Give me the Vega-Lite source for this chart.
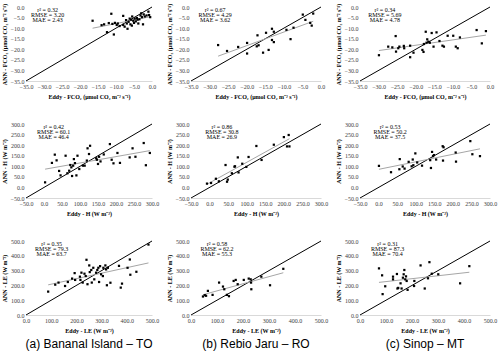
{
  "$schema": "https://vega.github.io/schema/vega-lite/v6.json",
  "padding": {"left": 1, "top": 3, "right": 1, "bottom": 1},
  "columns": 3,
  "spacing": {"row": 22, "column": 7},
  "datasets": {
    "fa": [{"eddy":-16.5,"ann":-6.5},{"eddy":-14.0,"ann":-8.6},{"eddy":-13.3,"ann":-8.2},{"eddy":-12.5,"ann":-11.9},{"eddy":-12.0,"ann":-7.6},{"eddy":-11.3,"ann":-3.2},{"eddy":-11.0,"ann":-8.0},{"eddy":-10.6,"ann":-13.0},{"eddy":-10.3,"ann":-7.5},{"eddy":-9.8,"ann":-8.5},{"eddy":-9.5,"ann":-7.8},{"eddy":-9.0,"ann":-9.0},{"eddy":-8.0,"ann":-4.2},{"eddy":-8.0,"ann":-8.5},{"eddy":-7.6,"ann":-9.3},{"eddy":-7.2,"ann":-6.2},{"eddy":-7.0,"ann":-7.8},{"eddy":-6.8,"ann":-10.3},{"eddy":-6.5,"ann":-7.0},{"eddy":-6.2,"ann":-5.5},{"eddy":-6.0,"ann":-8.2},{"eddy":-5.8,"ann":-6.0},{"eddy":-5.6,"ann":-8.8},{"eddy":-5.5,"ann":-4.5},{"eddy":-5.2,"ann":-6.5},{"eddy":-5.0,"ann":-7.5},{"eddy":-4.8,"ann":-5.5},{"eddy":-4.5,"ann":-6.8},{"eddy":-4.2,"ann":-5.2},{"eddy":-4.0,"ann":-6.0},{"eddy":-3.8,"ann":-7.8},{"eddy":-3.5,"ann":-5.8},{"eddy":-3.2,"ann":-4.0},{"eddy":-3.0,"ann":-3.0},{"eddy":-2.8,"ann":-4.8},{"eddy":-2.5,"ann":-8.2},{"eddy":-2.3,"ann":-3.5},{"eddy":-2.0,"ann":-4.5},{"eddy":-1.5,"ann":-4.0},{"eddy":-1.0,"ann":-2.2},{"eddy":-0.8,"ann":-3.8},{"eddy":-0.5,"ann":-4.8}],
    "fb": [{"eddy":-27.7,"ann":-18.0},{"eddy":-25.3,"ann":-20.8},{"eddy":-22.3,"ann":-18.9},{"eddy":-19.9,"ann":-17.0},{"eddy":-19.9,"ann":-22.0},{"eddy":-17.3,"ann":-18.6},{"eddy":-17.1,"ann":-13.4},{"eddy":-16.8,"ann":-18.1},{"eddy":-14.8,"ann":-12.2},{"eddy":-15.6,"ann":-21.6},{"eddy":-14.1,"ann":-20.3},{"eddy":-13.2,"ann":-10.3},{"eddy":-12.7,"ann":-11.7},{"eddy":-13.2,"ann":-15.6},{"eddy":-12.7,"ann":-16.6},{"eddy":-9.3,"ann":-10.8},{"eddy":-7.4,"ann":-9.8},{"eddy":-8.2,"ann":-15.2},{"eddy":-4.9,"ann":-3.6},{"eddy":-4.2,"ann":-6.1},{"eddy":-2.9,"ann":-7.5},{"eddy":-2.5,"ann":-8.8},{"eddy":-2.1,"ann":-3.1}],
    "fc": [{"eddy":-29.9,"ann":-22.8},{"eddy":-27.4,"ann":-18.75},{"eddy":-26.3,"ann":-19.1},{"eddy":-25.4,"ann":-13.75},{"eddy":-25.3,"ann":-21.1},{"eddy":-24.7,"ann":-19.5},{"eddy":-24.4,"ann":-18.75},{"eddy":-23.2,"ann":-18.4},{"eddy":-23.1,"ann":-19.5},{"eddy":-21.5,"ann":-18.3},{"eddy":-21.5,"ann":-23.75},{"eddy":-20.6,"ann":-21.6},{"eddy":-18.2,"ann":-20.3},{"eddy":-17.9,"ann":-21.25},{"eddy":-17.8,"ann":-17.5},{"eddy":-17.3,"ann":-11.7},{"eddy":-17.1,"ann":-16.9},{"eddy":-16.9,"ann":-15.3},{"eddy":-16.6,"ann":-16.4},{"eddy":-16.2,"ann":-16.9},{"eddy":-15.7,"ann":-12.3},{"eddy":-15.2,"ann":-18.75},{"eddy":-14.4,"ann":-12.0},{"eddy":-13.6,"ann":-16.1},{"eddy":-12.8,"ann":-18.3},{"eddy":-12.4,"ann":-18.75},{"eddy":-11.4,"ann":-13.6},{"eddy":-9.9,"ann":-13.6},{"eddy":-9.2,"ann":-18.75},{"eddy":-8.7,"ann":-19.5},{"eddy":-8.1,"ann":-14.4},{"eddy":-3.6,"ann":-10.9},{"eddy":-2.2,"ann":-17.2},{"eddy":-1.1,"ann":-11.4}],
    "ha": [{"eddy":3,"ann":24},{"eddy":22,"ann":116},{"eddy":30,"ann":155},{"eddy":35,"ann":128},{"eddy":42,"ann":78},{"eddy":46,"ann":57},{"eddy":60,"ann":150},{"eddy":65,"ann":67},{"eddy":70,"ann":79},{"eddy":73,"ann":106},{"eddy":76,"ann":95},{"eddy":78,"ann":54},{"eddy":81,"ann":103},{"eddy":83,"ann":134},{"eddy":86,"ann":115},{"eddy":90,"ann":57},{"eddy":93,"ann":150},{"eddy":98,"ann":87},{"eddy":108,"ann":103},{"eddy":113,"ann":103},{"eddy":119,"ann":127},{"eddy":121,"ann":185},{"eddy":125,"ann":158},{"eddy":128,"ann":197},{"eddy":145,"ann":138},{"eddy":147,"ann":131},{"eddy":150,"ann":111},{"eddy":153,"ann":145},{"eddy":157,"ann":123},{"eddy":166,"ann":156},{"eddy":183,"ann":205},{"eddy":188,"ann":131},{"eddy":193,"ann":114},{"eddy":204,"ann":163},{"eddy":211,"ann":116},{"eddy":238,"ann":142},{"eddy":246,"ann":185},{"eddy":254,"ann":145},{"eddy":277,"ann":210},{"eddy":283,"ann":105},{"eddy":294,"ann":163}],
    "hb": [{"eddy":-7,"ann":18},{"eddy":4,"ann":21},{"eddy":17,"ann":41},{"eddy":25,"ann":29},{"eddy":43,"ann":106},{"eddy":47,"ann":27},{"eddy":49,"ann":37},{"eddy":60,"ann":67},{"eddy":67,"ann":98},{"eddy":68.5,"ann":100},{"eddy":76,"ann":142},{"eddy":78,"ann":71},{"eddy":88,"ann":112},{"eddy":99,"ann":97},{"eddy":105,"ann":144},{"eddy":126,"ann":196},{"eddy":140,"ann":130},{"eddy":173,"ann":202},{"eddy":200,"ann":238},{"eddy":208.5,"ann":194},{"eddy":213,"ann":248},{"eddy":215,"ann":194}],
    "hc": [{"eddy":1,"ann":102},{"eddy":33.5,"ann":72},{"eddy":56,"ann":86},{"eddy":57,"ann":134},{"eddy":65,"ann":99},{"eddy":70,"ann":89},{"eddy":81,"ann":121},{"eddy":89,"ann":100},{"eddy":92,"ann":132},{"eddy":93.6,"ann":105},{"eddy":99,"ann":161},{"eddy":104,"ann":118},{"eddy":117,"ann":103},{"eddy":139,"ann":129},{"eddy":141,"ann":92},{"eddy":144,"ann":168},{"eddy":146.6,"ann":148},{"eddy":149,"ann":153},{"eddy":155,"ann":132},{"eddy":172.6,"ann":195},{"eddy":173.5,"ann":127},{"eddy":175,"ann":190},{"eddy":207.6,"ann":165},{"eddy":208.5,"ann":122},{"eddy":247,"ann":219},{"eddy":252.5,"ann":157},{"eddy":273,"ann":148}],
    "la": [{"eddy":88,"ann":158},{"eddy":116,"ann":205},{"eddy":129,"ann":219},{"eddy":155,"ann":196},{"eddy":166,"ann":223},{"eddy":183,"ann":246},{"eddy":193,"ann":283},{"eddy":195,"ann":237},{"eddy":214,"ann":259},{"eddy":216,"ann":237},{"eddy":220,"ann":286},{"eddy":225,"ann":219},{"eddy":232,"ann":279},{"eddy":237,"ann":263},{"eddy":240,"ann":373},{"eddy":244,"ann":208},{"eddy":251,"ann":335},{"eddy":253,"ann":290},{"eddy":259,"ann":304},{"eddy":261,"ann":219},{"eddy":267,"ann":319},{"eddy":271,"ann":241},{"eddy":278,"ann":286},{"eddy":283,"ann":304},{"eddy":287,"ann":319},{"eddy":290,"ann":223},{"eddy":294,"ann":330},{"eddy":298,"ann":275},{"eddy":305,"ann":263},{"eddy":307,"ann":319},{"eddy":315,"ann":335},{"eddy":318,"ann":308},{"eddy":321,"ann":201},{"eddy":325,"ann":319},{"eddy":335,"ann":218},{"eddy":369,"ann":332},{"eddy":376,"ann":185},{"eddy":381,"ann":212},{"eddy":403,"ann":319},{"eddy":412,"ann":375},{"eddy":414,"ann":272},{"eddy":438,"ann":292},{"eddy":486,"ann":476}],
    "lb": [{"eddy":46,"ann":125},{"eddy":53,"ann":134},{"eddy":58,"ann":130},{"eddy":65,"ann":163},{"eddy":83,"ann":136},{"eddy":108,"ann":219},{"eddy":123,"ann":192},{"eddy":128,"ann":174},{"eddy":138,"ann":136},{"eddy":146,"ann":127},{"eddy":164,"ann":230},{"eddy":172,"ann":237},{"eddy":179.5,"ann":208},{"eddy":203,"ann":237},{"eddy":222,"ann":246},{"eddy":229.5,"ann":241},{"eddy":231,"ann":219},{"eddy":232,"ann":174},{"eddy":270.5,"ann":259},{"eddy":304,"ann":201},{"eddy":355,"ann":312}],
    "lc": [{"eddy":73,"ann":315},{"eddy":85,"ann":268},{"eddy":87,"ann":141},{"eddy":97,"ann":194},{"eddy":127,"ann":259},{"eddy":127,"ann":241},{"eddy":142,"ann":277},{"eddy":144,"ann":179},{"eddy":147,"ann":183},{"eddy":156,"ann":214},{"eddy":160,"ann":179},{"eddy":165,"ann":252},{"eddy":168,"ann":275},{"eddy":170.5,"ann":304},{"eddy":174,"ann":241},{"eddy":177,"ann":261},{"eddy":179.5,"ann":230},{"eddy":183,"ann":170},{"eddy":208,"ann":196},{"eddy":209,"ann":230},{"eddy":233,"ann":335},{"eddy":249,"ann":179},{"eddy":261.5,"ann":248},{"eddy":267,"ann":357},{"eddy":276,"ann":279},{"eddy":301,"ann":275},{"eddy":385,"ann":214},{"eddy":420.5,"ann":330}]
  },
  "concat": [
    {
      "data": {"name": "fa"}, "width": 126, "height": 74,
      "layer": [
        {"data": {"values": [{}]}, "mark": {"type": "rule", "color": "#000000", "strokeWidth": 1}, "encoding": {"x": {"datum": -35, "type": "quantitative", "scale": {"domain": [-35, 0], "nice": false, "zero": false}, "axis": {"values": [-35,-30,-25,-20,-15,-10,-5,0], "format": ".1f", "title": "Eddy - FCO₂ (μmol CO₂ m⁻² s⁻¹)"}}, "y": {"datum": -35, "type": "quantitative", "scale": {"domain": [-35, 0], "nice": false, "zero": false}, "axis": {"values": [-35,-30,-25,-20,-15,-10,-5,0], "format": ".1f", "title": "ANN - FCO₂ (μmol CO₂ m⁻² s⁻¹)"}}, "x2": {"datum": 0}, "y2": {"datum": 0}}},
        {"mark": {"type": "line", "color": "#a6a6a6", "strokeWidth": 1}, "transform": [{"regression": "ann", "on": "eddy"}], "encoding": {"x": {"field": "eddy", "type": "quantitative", "scale": {"domain": [-35, 0], "nice": false, "zero": false}, "axis": {"values": [-35,-30,-25,-20,-15,-10,-5,0], "format": ".1f", "title": "Eddy - FCO₂ (μmol CO₂ m⁻² s⁻¹)"}}, "y": {"field": "ann", "type": "quantitative", "scale": {"domain": [-35, 0], "nice": false, "zero": false}, "axis": {"values": [-35,-30,-25,-20,-15,-10,-5,0], "format": ".1f", "title": "ANN - FCO₂ (μmol CO₂ m⁻² s⁻¹)"}}}},
        {"mark": {"type": "square", "color": "#000000", "size": 5, "opacity": 1}, "encoding": {"x": {"field": "eddy", "type": "quantitative", "scale": {"domain": [-35, 0], "nice": false, "zero": false}, "axis": {"values": [-35,-30,-25,-20,-15,-10,-5,0], "format": ".1f", "title": "Eddy - FCO₂ (μmol CO₂ m⁻² s⁻¹)"}}, "y": {"field": "ann", "type": "quantitative", "scale": {"domain": [-35, 0], "nice": false, "zero": false}, "axis": {"values": [-35,-30,-25,-20,-15,-10,-5,0], "format": ".1f", "title": "ANN - FCO₂ (μmol CO₂ m⁻² s⁻¹)"}}}},
        {"data": {"values": [{}]}, "mark": {"type": "text", "fontSize": 6, "align": "center", "baseline": "top", "lineHeight": 5, "text": ["r² = 0.32", "RMSE = 3.20", "MAE = 2.43"]}, "encoding": {"x": {"datum": -29, "type": "quantitative", "scale": {"domain": [-35, 0], "nice": false, "zero": false}, "axis": {"values": [-35,-30,-25,-20,-15,-10,-5,0], "format": ".1f", "title": "Eddy - FCO₂ (μmol CO₂ m⁻² s⁻¹)"}}, "y": {"datum": 0, "type": "quantitative", "scale": {"domain": [-35, 0], "nice": false, "zero": false}, "axis": {"values": [-35,-30,-25,-20,-15,-10,-5,0], "format": ".1f", "title": "ANN - FCO₂ (μmol CO₂ m⁻² s⁻¹)"}}}}
      ]
    },
    {
      "data": {"name": "fb"}, "width": 130, "height": 74,
      "layer": [
        {"data": {"values": [{}]}, "mark": {"type": "rule", "color": "#000000", "strokeWidth": 1}, "encoding": {"x": {"datum": -35, "type": "quantitative", "scale": {"domain": [-35, 0], "nice": false, "zero": false}, "axis": {"values": [-35,-30,-25,-20,-15,-10,-5,0], "format": ".1f", "title": "Eddy - FCO₂ (μmol CO₂ m⁻² s⁻¹)"}}, "y": {"datum": -35, "type": "quantitative", "scale": {"domain": [-35, 0], "nice": false, "zero": false}, "axis": {"values": [-35,-30,-25,-20,-15,-10,-5,0], "format": ".1f", "title": "ANN - FCO₂ (μmol CO₂ m⁻² s⁻¹)"}}, "x2": {"datum": 0}, "y2": {"datum": 0}}},
        {"mark": {"type": "line", "color": "#a6a6a6", "strokeWidth": 1}, "transform": [{"regression": "ann", "on": "eddy"}], "encoding": {"x": {"field": "eddy", "type": "quantitative", "scale": {"domain": [-35, 0], "nice": false, "zero": false}, "axis": {"values": [-35,-30,-25,-20,-15,-10,-5,0], "format": ".1f", "title": "Eddy - FCO₂ (μmol CO₂ m⁻² s⁻¹)"}}, "y": {"field": "ann", "type": "quantitative", "scale": {"domain": [-35, 0], "nice": false, "zero": false}, "axis": {"values": [-35,-30,-25,-20,-15,-10,-5,0], "format": ".1f", "title": "ANN - FCO₂ (μmol CO₂ m⁻² s⁻¹)"}}}},
        {"mark": {"type": "square", "color": "#000000", "size": 5, "opacity": 1}, "encoding": {"x": {"field": "eddy", "type": "quantitative", "scale": {"domain": [-35, 0], "nice": false, "zero": false}, "axis": {"values": [-35,-30,-25,-20,-15,-10,-5,0], "format": ".1f", "title": "Eddy - FCO₂ (μmol CO₂ m⁻² s⁻¹)"}}, "y": {"field": "ann", "type": "quantitative", "scale": {"domain": [-35, 0], "nice": false, "zero": false}, "axis": {"values": [-35,-30,-25,-20,-15,-10,-5,0], "format": ".1f", "title": "ANN - FCO₂ (μmol CO₂ m⁻² s⁻¹)"}}}},
        {"data": {"values": [{}]}, "mark": {"type": "text", "fontSize": 6, "align": "center", "baseline": "top", "lineHeight": 5, "text": ["r² = 0.67", "RMSE = 4.29", "MAE = 3.62"]}, "encoding": {"x": {"datum": -28.5, "type": "quantitative", "scale": {"domain": [-35, 0], "nice": false, "zero": false}, "axis": {"values": [-35,-30,-25,-20,-15,-10,-5,0], "format": ".1f", "title": "Eddy - FCO₂ (μmol CO₂ m⁻² s⁻¹)"}}, "y": {"datum": 0, "type": "quantitative", "scale": {"domain": [-35, 0], "nice": false, "zero": false}, "axis": {"values": [-35,-30,-25,-20,-15,-10,-5,0], "format": ".1f", "title": "ANN - FCO₂ (μmol CO₂ m⁻² s⁻¹)"}}}}
      ]
    },
    {
      "data": {"name": "fc"}, "width": 130, "height": 74,
      "layer": [
        {"data": {"values": [{}]}, "mark": {"type": "rule", "color": "#000000", "strokeWidth": 1}, "encoding": {"x": {"datum": -35, "type": "quantitative", "scale": {"domain": [-35, 0], "nice": false, "zero": false}, "axis": {"values": [-35,-30,-25,-20,-15,-10,-5,0], "format": ".1f", "title": "Eddy - FCO₂ (μmol CO₂ m⁻² s⁻¹)"}}, "y": {"datum": -35, "type": "quantitative", "scale": {"domain": [-35, 0], "nice": false, "zero": false}, "axis": {"values": [-35,-30,-25,-20,-15,-10,-5,0], "format": ".1f", "title": "ANN - FCO₂ (μmol CO₂ m⁻² s⁻¹)"}}, "x2": {"datum": 0}, "y2": {"datum": 0}}},
        {"mark": {"type": "line", "color": "#a6a6a6", "strokeWidth": 1}, "transform": [{"regression": "ann", "on": "eddy"}], "encoding": {"x": {"field": "eddy", "type": "quantitative", "scale": {"domain": [-35, 0], "nice": false, "zero": false}, "axis": {"values": [-35,-30,-25,-20,-15,-10,-5,0], "format": ".1f", "title": "Eddy - FCO₂ (μmol CO₂ m⁻² s⁻¹)"}}, "y": {"field": "ann", "type": "quantitative", "scale": {"domain": [-35, 0], "nice": false, "zero": false}, "axis": {"values": [-35,-30,-25,-20,-15,-10,-5,0], "format": ".1f", "title": "ANN - FCO₂ (μmol CO₂ m⁻² s⁻¹)"}}}},
        {"mark": {"type": "square", "color": "#000000", "size": 5, "opacity": 1}, "encoding": {"x": {"field": "eddy", "type": "quantitative", "scale": {"domain": [-35, 0], "nice": false, "zero": false}, "axis": {"values": [-35,-30,-25,-20,-15,-10,-5,0], "format": ".1f", "title": "Eddy - FCO₂ (μmol CO₂ m⁻² s⁻¹)"}}, "y": {"field": "ann", "type": "quantitative", "scale": {"domain": [-35, 0], "nice": false, "zero": false}, "axis": {"values": [-35,-30,-25,-20,-15,-10,-5,0], "format": ".1f", "title": "ANN - FCO₂ (μmol CO₂ m⁻² s⁻¹)"}}}},
        {"data": {"values": [{}]}, "mark": {"type": "text", "fontSize": 6, "align": "center", "baseline": "top", "lineHeight": 5, "text": ["r² = 0.34", "RMSE = 5.69", "MAE = 4.78"]}, "encoding": {"x": {"datum": -28.3, "type": "quantitative", "scale": {"domain": [-35, 0], "nice": false, "zero": false}, "axis": {"values": [-35,-30,-25,-20,-15,-10,-5,0], "format": ".1f", "title": "Eddy - FCO₂ (μmol CO₂ m⁻² s⁻¹)"}}, "y": {"datum": 0, "type": "quantitative", "scale": {"domain": [-35, 0], "nice": false, "zero": false}, "axis": {"values": [-35,-30,-25,-20,-15,-10,-5,0], "format": ".1f", "title": "ANN - FCO₂ (μmol CO₂ m⁻² s⁻¹)"}}}}
      ]
    },
    {
      "data": {"name": "ha"}, "width": 126, "height": 74,
      "layer": [
        {"data": {"values": [{}]}, "mark": {"type": "rule", "color": "#000000", "strokeWidth": 1}, "encoding": {"x": {"datum": -50, "type": "quantitative", "scale": {"domain": [-50, 300], "nice": false, "zero": false}, "axis": {"values": [-50,0,50,100,150,200,250,300], "format": ".1f", "title": "Eddy - H (W m⁻²)"}}, "y": {"datum": -50, "type": "quantitative", "scale": {"domain": [-50, 300], "nice": false, "zero": false}, "axis": {"values": [-50,0,50,100,150,200,250,300], "format": ".1f", "title": "ANN - H (W m⁻²)"}}, "x2": {"datum": 300}, "y2": {"datum": 300}}},
        {"mark": {"type": "line", "color": "#a6a6a6", "strokeWidth": 1}, "transform": [{"regression": "ann", "on": "eddy"}], "encoding": {"x": {"field": "eddy", "type": "quantitative", "scale": {"domain": [-50, 300], "nice": false, "zero": false}, "axis": {"values": [-50,0,50,100,150,200,250,300], "format": ".1f", "title": "Eddy - H (W m⁻²)"}}, "y": {"field": "ann", "type": "quantitative", "scale": {"domain": [-50, 300], "nice": false, "zero": false}, "axis": {"values": [-50,0,50,100,150,200,250,300], "format": ".1f", "title": "ANN - H (W m⁻²)"}}}},
        {"mark": {"type": "square", "color": "#000000", "size": 5, "opacity": 1}, "encoding": {"x": {"field": "eddy", "type": "quantitative", "scale": {"domain": [-50, 300], "nice": false, "zero": false}, "axis": {"values": [-50,0,50,100,150,200,250,300], "format": ".1f", "title": "Eddy - H (W m⁻²)"}}, "y": {"field": "ann", "type": "quantitative", "scale": {"domain": [-50, 300], "nice": false, "zero": false}, "axis": {"values": [-50,0,50,100,150,200,250,300], "format": ".1f", "title": "ANN - H (W m⁻²)"}}}},
        {"data": {"values": [{}]}, "mark": {"type": "text", "fontSize": 6, "align": "center", "baseline": "top", "lineHeight": 5, "text": ["r² = 0.42", "RMSE = 60.1", "MAE = 46.4"]}, "encoding": {"x": {"datum": 27, "type": "quantitative", "scale": {"domain": [-50, 300], "nice": false, "zero": false}, "axis": {"values": [-50,0,50,100,150,200,250,300], "format": ".1f", "title": "Eddy - H (W m⁻²)"}}, "y": {"datum": 300, "type": "quantitative", "scale": {"domain": [-50, 300], "nice": false, "zero": false}, "axis": {"values": [-50,0,50,100,150,200,250,300], "format": ".1f", "title": "ANN - H (W m⁻²)"}}}}
      ]
    },
    {
      "data": {"name": "hb"}, "width": 130, "height": 74,
      "layer": [
        {"data": {"values": [{}]}, "mark": {"type": "rule", "color": "#000000", "strokeWidth": 1}, "encoding": {"x": {"datum": -50, "type": "quantitative", "scale": {"domain": [-50, 300], "nice": false, "zero": false}, "axis": {"values": [-50,0,50,100,150,200,250,300], "format": ".1f", "title": "Eddy - H (W m⁻²)"}}, "y": {"datum": -50, "type": "quantitative", "scale": {"domain": [-50, 300], "nice": false, "zero": false}, "axis": {"values": [-50,0,50,100,150,200,250,300], "format": ".1f", "title": "ANN - H (W m⁻²)"}}, "x2": {"datum": 300}, "y2": {"datum": 300}}},
        {"mark": {"type": "line", "color": "#a6a6a6", "strokeWidth": 1}, "transform": [{"regression": "ann", "on": "eddy"}], "encoding": {"x": {"field": "eddy", "type": "quantitative", "scale": {"domain": [-50, 300], "nice": false, "zero": false}, "axis": {"values": [-50,0,50,100,150,200,250,300], "format": ".1f", "title": "Eddy - H (W m⁻²)"}}, "y": {"field": "ann", "type": "quantitative", "scale": {"domain": [-50, 300], "nice": false, "zero": false}, "axis": {"values": [-50,0,50,100,150,200,250,300], "format": ".1f", "title": "ANN - H (W m⁻²)"}}}},
        {"mark": {"type": "square", "color": "#000000", "size": 5, "opacity": 1}, "encoding": {"x": {"field": "eddy", "type": "quantitative", "scale": {"domain": [-50, 300], "nice": false, "zero": false}, "axis": {"values": [-50,0,50,100,150,200,250,300], "format": ".1f", "title": "Eddy - H (W m⁻²)"}}, "y": {"field": "ann", "type": "quantitative", "scale": {"domain": [-50, 300], "nice": false, "zero": false}, "axis": {"values": [-50,0,50,100,150,200,250,300], "format": ".1f", "title": "ANN - H (W m⁻²)"}}}},
        {"data": {"values": [{}]}, "mark": {"type": "text", "fontSize": 6, "align": "center", "baseline": "top", "lineHeight": 5, "text": ["r² = 0.86", "RMSE = 30.8", "MAE = 26.9"]}, "encoding": {"x": {"datum": 33, "type": "quantitative", "scale": {"domain": [-50, 300], "nice": false, "zero": false}, "axis": {"values": [-50,0,50,100,150,200,250,300], "format": ".1f", "title": "Eddy - H (W m⁻²)"}}, "y": {"datum": 300, "type": "quantitative", "scale": {"domain": [-50, 300], "nice": false, "zero": false}, "axis": {"values": [-50,0,50,100,150,200,250,300], "format": ".1f", "title": "ANN - H (W m⁻²)"}}}}
      ]
    },
    {
      "data": {"name": "hc"}, "width": 130, "height": 74,
      "layer": [
        {"data": {"values": [{}]}, "mark": {"type": "rule", "color": "#000000", "strokeWidth": 1}, "encoding": {"x": {"datum": -50, "type": "quantitative", "scale": {"domain": [-50, 300], "nice": false, "zero": false}, "axis": {"values": [-50,0,50,100,150,200,250,300], "format": ".1f", "title": "Eddy - H (W m⁻²)"}}, "y": {"datum": -50, "type": "quantitative", "scale": {"domain": [-50, 300], "nice": false, "zero": false}, "axis": {"values": [-50,0,50,100,150,200,250,300], "format": ".1f", "title": "ANN - H (W m⁻²)"}}, "x2": {"datum": 300}, "y2": {"datum": 300}}},
        {"mark": {"type": "line", "color": "#a6a6a6", "strokeWidth": 1}, "transform": [{"regression": "ann", "on": "eddy"}], "encoding": {"x": {"field": "eddy", "type": "quantitative", "scale": {"domain": [-50, 300], "nice": false, "zero": false}, "axis": {"values": [-50,0,50,100,150,200,250,300], "format": ".1f", "title": "Eddy - H (W m⁻²)"}}, "y": {"field": "ann", "type": "quantitative", "scale": {"domain": [-50, 300], "nice": false, "zero": false}, "axis": {"values": [-50,0,50,100,150,200,250,300], "format": ".1f", "title": "ANN - H (W m⁻²)"}}}},
        {"mark": {"type": "square", "color": "#000000", "size": 5, "opacity": 1}, "encoding": {"x": {"field": "eddy", "type": "quantitative", "scale": {"domain": [-50, 300], "nice": false, "zero": false}, "axis": {"values": [-50,0,50,100,150,200,250,300], "format": ".1f", "title": "Eddy - H (W m⁻²)"}}, "y": {"field": "ann", "type": "quantitative", "scale": {"domain": [-50, 300], "nice": false, "zero": false}, "axis": {"values": [-50,0,50,100,150,200,250,300], "format": ".1f", "title": "ANN - H (W m⁻²)"}}}},
        {"data": {"values": [{}]}, "mark": {"type": "text", "fontSize": 6, "align": "center", "baseline": "top", "lineHeight": 5, "text": ["r² = 0.53", "RMSE = 50.2", "MAE = 37.5"]}, "encoding": {"x": {"datum": 31, "type": "quantitative", "scale": {"domain": [-50, 300], "nice": false, "zero": false}, "axis": {"values": [-50,0,50,100,150,200,250,300], "format": ".1f", "title": "Eddy - H (W m⁻²)"}}, "y": {"datum": 300, "type": "quantitative", "scale": {"domain": [-50, 300], "nice": false, "zero": false}, "axis": {"values": [-50,0,50,100,150,200,250,300], "format": ".1f", "title": "ANN - H (W m⁻²)"}}}}
      ]
    },
    {
      "data": {"name": "la"}, "width": 126, "height": 74,
      "title": {"text": "(a) Bananal Island – TO", "orient": "bottom", "anchor": "middle", "frame": "group", "font": "Liberation Sans", "fontSize": 12, "fontWeight": "normal", "color": "#000000", "offset": 6},
      "layer": [
        {"data": {"values": [{}]}, "mark": {"type": "rule", "color": "#000000", "strokeWidth": 1}, "encoding": {"x": {"datum": 0, "type": "quantitative", "scale": {"domain": [0, 500], "nice": false, "zero": false}, "axis": {"values": [0,100,200,300,400,500], "format": ".1f", "title": "Eddy - LE (W m⁻²)"}}, "y": {"datum": 0, "type": "quantitative", "scale": {"domain": [0, 500], "nice": false, "zero": false}, "axis": {"values": [0,100,200,300,400,500], "format": ".1f", "title": "ANN - LE (W m⁻²)"}}, "x2": {"datum": 500}, "y2": {"datum": 500}}},
        {"mark": {"type": "line", "color": "#a6a6a6", "strokeWidth": 1}, "transform": [{"regression": "ann", "on": "eddy"}], "encoding": {"x": {"field": "eddy", "type": "quantitative", "scale": {"domain": [0, 500], "nice": false, "zero": false}, "axis": {"values": [0,100,200,300,400,500], "format": ".1f", "title": "Eddy - LE (W m⁻²)"}}, "y": {"field": "ann", "type": "quantitative", "scale": {"domain": [0, 500], "nice": false, "zero": false}, "axis": {"values": [0,100,200,300,400,500], "format": ".1f", "title": "ANN - LE (W m⁻²)"}}}},
        {"mark": {"type": "square", "color": "#000000", "size": 5, "opacity": 1}, "encoding": {"x": {"field": "eddy", "type": "quantitative", "scale": {"domain": [0, 500], "nice": false, "zero": false}, "axis": {"values": [0,100,200,300,400,500], "format": ".1f", "title": "Eddy - LE (W m⁻²)"}}, "y": {"field": "ann", "type": "quantitative", "scale": {"domain": [0, 500], "nice": false, "zero": false}, "axis": {"values": [0,100,200,300,400,500], "format": ".1f", "title": "ANN - LE (W m⁻²)"}}}},
        {"data": {"values": [{}]}, "mark": {"type": "text", "fontSize": 6, "align": "center", "baseline": "top", "lineHeight": 5, "text": ["r² = 0.35", "RMSE = 79.3", "MAE = 63.7"]}, "encoding": {"x": {"datum": 102, "type": "quantitative", "scale": {"domain": [0, 500], "nice": false, "zero": false}, "axis": {"values": [0,100,200,300,400,500], "format": ".1f", "title": "Eddy - LE (W m⁻²)"}}, "y": {"datum": 500, "type": "quantitative", "scale": {"domain": [0, 500], "nice": false, "zero": false}, "axis": {"values": [0,100,200,300,400,500], "format": ".1f", "title": "ANN - LE (W m⁻²)"}}}}
      ]
    },
    {
      "data": {"name": "lb"}, "width": 130, "height": 74,
      "title": {"text": "(b) Rebio Jaru – RO", "orient": "bottom", "anchor": "middle", "frame": "group", "font": "Liberation Sans", "fontSize": 12, "fontWeight": "normal", "color": "#000000", "offset": 6},
      "layer": [
        {"data": {"values": [{}]}, "mark": {"type": "rule", "color": "#000000", "strokeWidth": 1}, "encoding": {"x": {"datum": 0, "type": "quantitative", "scale": {"domain": [0, 500], "nice": false, "zero": false}, "axis": {"values": [0,100,200,300,400,500], "format": ".1f", "title": "Eddy - LE (W m⁻²)"}}, "y": {"datum": 0, "type": "quantitative", "scale": {"domain": [0, 500], "nice": false, "zero": false}, "axis": {"values": [0,100,200,300,400,500], "format": ".1f", "title": "ANN - LE (W m⁻²)"}}, "x2": {"datum": 500}, "y2": {"datum": 500}}},
        {"mark": {"type": "line", "color": "#a6a6a6", "strokeWidth": 1}, "transform": [{"regression": "ann", "on": "eddy"}], "encoding": {"x": {"field": "eddy", "type": "quantitative", "scale": {"domain": [0, 500], "nice": false, "zero": false}, "axis": {"values": [0,100,200,300,400,500], "format": ".1f", "title": "Eddy - LE (W m⁻²)"}}, "y": {"field": "ann", "type": "quantitative", "scale": {"domain": [0, 500], "nice": false, "zero": false}, "axis": {"values": [0,100,200,300,400,500], "format": ".1f", "title": "ANN - LE (W m⁻²)"}}}},
        {"mark": {"type": "square", "color": "#000000", "size": 5, "opacity": 1}, "encoding": {"x": {"field": "eddy", "type": "quantitative", "scale": {"domain": [0, 500], "nice": false, "zero": false}, "axis": {"values": [0,100,200,300,400,500], "format": ".1f", "title": "Eddy - LE (W m⁻²)"}}, "y": {"field": "ann", "type": "quantitative", "scale": {"domain": [0, 500], "nice": false, "zero": false}, "axis": {"values": [0,100,200,300,400,500], "format": ".1f", "title": "ANN - LE (W m⁻²)"}}}},
        {"data": {"values": [{}]}, "mark": {"type": "text", "fontSize": 6, "align": "center", "baseline": "top", "lineHeight": 5, "text": ["r² = 0.58", "RMSE = 62.2", "MAE = 55.3"]}, "encoding": {"x": {"datum": 100, "type": "quantitative", "scale": {"domain": [0, 500], "nice": false, "zero": false}, "axis": {"values": [0,100,200,300,400,500], "format": ".1f", "title": "Eddy - LE (W m⁻²)"}}, "y": {"datum": 500, "type": "quantitative", "scale": {"domain": [0, 500], "nice": false, "zero": false}, "axis": {"values": [0,100,200,300,400,500], "format": ".1f", "title": "ANN - LE (W m⁻²)"}}}}
      ]
    },
    {
      "data": {"name": "lc"}, "width": 130, "height": 74,
      "title": {"text": "(c) Sinop – MT", "orient": "bottom", "anchor": "middle", "frame": "group", "font": "Liberation Sans", "fontSize": 12, "fontWeight": "normal", "color": "#000000", "offset": 6},
      "layer": [
        {"data": {"values": [{}]}, "mark": {"type": "rule", "color": "#000000", "strokeWidth": 1}, "encoding": {"x": {"datum": 0, "type": "quantitative", "scale": {"domain": [0, 500], "nice": false, "zero": false}, "axis": {"values": [0,100,200,300,400,500], "format": ".1f", "title": "Eddy - LE (W m⁻²)"}}, "y": {"datum": 0, "type": "quantitative", "scale": {"domain": [0, 500], "nice": false, "zero": false}, "axis": {"values": [0,100,200,300,400,500], "format": ".1f", "title": "ANN - LE (W m⁻²)"}}, "x2": {"datum": 500}, "y2": {"datum": 500}}},
        {"mark": {"type": "line", "color": "#a6a6a6", "strokeWidth": 1}, "transform": [{"regression": "ann", "on": "eddy"}], "encoding": {"x": {"field": "eddy", "type": "quantitative", "scale": {"domain": [0, 500], "nice": false, "zero": false}, "axis": {"values": [0,100,200,300,400,500], "format": ".1f", "title": "Eddy - LE (W m⁻²)"}}, "y": {"field": "ann", "type": "quantitative", "scale": {"domain": [0, 500], "nice": false, "zero": false}, "axis": {"values": [0,100,200,300,400,500], "format": ".1f", "title": "ANN - LE (W m⁻²)"}}}},
        {"mark": {"type": "square", "color": "#000000", "size": 5, "opacity": 1}, "encoding": {"x": {"field": "eddy", "type": "quantitative", "scale": {"domain": [0, 500], "nice": false, "zero": false}, "axis": {"values": [0,100,200,300,400,500], "format": ".1f", "title": "Eddy - LE (W m⁻²)"}}, "y": {"field": "ann", "type": "quantitative", "scale": {"domain": [0, 500], "nice": false, "zero": false}, "axis": {"values": [0,100,200,300,400,500], "format": ".1f", "title": "ANN - LE (W m⁻²)"}}}},
        {"data": {"values": [{}]}, "mark": {"type": "text", "fontSize": 6, "align": "center", "baseline": "top", "lineHeight": 5, "text": ["r² = 0.31", "RMSE = 87.3", "MAE = 70.4"]}, "encoding": {"x": {"datum": 106, "type": "quantitative", "scale": {"domain": [0, 500], "nice": false, "zero": false}, "axis": {"values": [0,100,200,300,400,500], "format": ".1f", "title": "Eddy - LE (W m⁻²)"}}, "y": {"datum": 500, "type": "quantitative", "scale": {"domain": [0, 500], "nice": false, "zero": false}, "axis": {"values": [0,100,200,300,400,500], "format": ".1f", "title": "ANN - LE (W m⁻²)"}}}}
      ]
    }
  ],
  "config": {
    "view": {"stroke": null},
    "font": "Liberation Serif",
    "text": {"font": "Liberation Serif", "color": "#000000"},
    "axis": {"labelFont": "Liberation Serif", "labelFontSize": 6, "labelColor": "#404040", "titleFont": "Liberation Serif", "titleFontSize": 6, "titleFontWeight": "bold", "titleColor": "#000000", "ticks": false, "grid": false, "domainColor": "#d9d9d9", "domainWidth": 1, "labelPadding": 2, "titlePadding": 3, "labelFlush": false, "labelOverlap": false},
    "axisX": {"titlePadding": 4},
    "axisY": {"domain": false}
  }
}
